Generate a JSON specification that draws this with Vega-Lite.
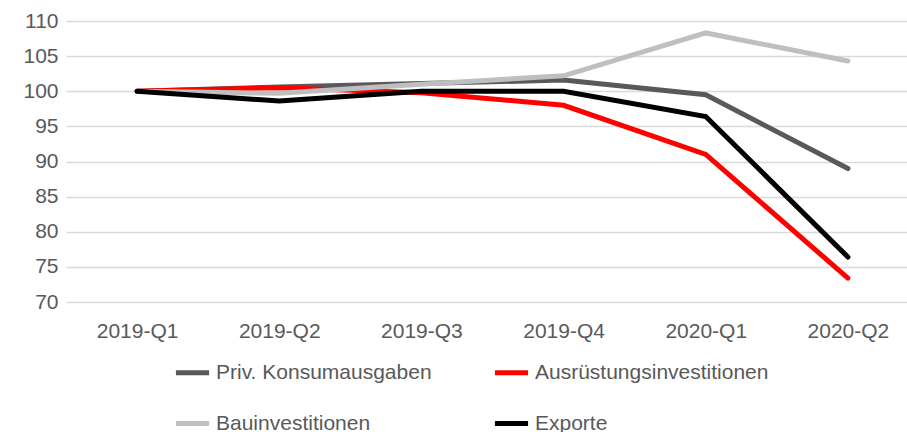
{
  "$schema": "https://vega.github.io/schema/vega-lite/v6.json",
  "width": 853,
  "height": 281,
  "autosize": {"type": "none"},
  "padding": {"left": 66, "top": 21, "right": 0, "bottom": 130},
  "background": "white",
  "config": {
    "view": {"stroke": null},
    "font": "Liberation Sans",
    "axis": {"labelColor": "#595959", "labelFontSize": 21, "labelFont": "Liberation Sans"}
  },
  "data": {
    "values": [
      {"q": "2019-Q1", "s": "Priv. Konsumausgaben", "v": 100, "o": 1},
      {"q": "2019-Q2", "s": "Priv. Konsumausgaben", "v": 100.6, "o": 1},
      {"q": "2019-Q3", "s": "Priv. Konsumausgaben", "v": 101.1, "o": 1},
      {"q": "2019-Q4", "s": "Priv. Konsumausgaben", "v": 101.6, "o": 1},
      {"q": "2020-Q1", "s": "Priv. Konsumausgaben", "v": 99.5, "o": 1},
      {"q": "2020-Q2", "s": "Priv. Konsumausgaben", "v": 89.0, "o": 1},
      {"q": "2019-Q1", "s": "Ausrüstungsinvestitionen", "v": 100, "o": 2},
      {"q": "2019-Q2", "s": "Ausrüstungsinvestitionen", "v": 100.5, "o": 2},
      {"q": "2019-Q3", "s": "Ausrüstungsinvestitionen", "v": 99.8, "o": 2},
      {"q": "2019-Q4", "s": "Ausrüstungsinvestitionen", "v": 98.0, "o": 2},
      {"q": "2020-Q1", "s": "Ausrüstungsinvestitionen", "v": 91.0, "o": 2},
      {"q": "2020-Q2", "s": "Ausrüstungsinvestitionen", "v": 73.4, "o": 2},
      {"q": "2019-Q1", "s": "Bauinvestitionen", "v": 100, "o": 3},
      {"q": "2019-Q2", "s": "Bauinvestitionen", "v": 99.7, "o": 3},
      {"q": "2019-Q3", "s": "Bauinvestitionen", "v": 101.0, "o": 3},
      {"q": "2019-Q4", "s": "Bauinvestitionen", "v": 102.2, "o": 3},
      {"q": "2020-Q1", "s": "Bauinvestitionen", "v": 108.3, "o": 3},
      {"q": "2020-Q2", "s": "Bauinvestitionen", "v": 104.3, "o": 3},
      {"q": "2019-Q1", "s": "Exporte", "v": 100, "o": 4},
      {"q": "2019-Q2", "s": "Exporte", "v": 98.6, "o": 4},
      {"q": "2019-Q3", "s": "Exporte", "v": 100.0, "o": 4},
      {"q": "2019-Q4", "s": "Exporte", "v": 100.0, "o": 4},
      {"q": "2020-Q1", "s": "Exporte", "v": 96.4, "o": 4},
      {"q": "2020-Q2", "s": "Exporte", "v": 76.4, "o": 4}
    ]
  },
  "mark": {"type": "line", "strokeWidth": 5, "strokeCap": "round", "strokeJoin": "miter"},
  "encoding": {
    "x": {
      "field": "q", "type": "ordinal", "scale": {"type": "point", "padding": 0.5},
      "axis": {"title": null, "labelAngle": 0, "domain": false, "ticks": false, "labelPadding": 18}
    },
    "y": {
      "field": "v", "type": "quantitative",
      "scale": {"domain": [70, 110], "nice": false, "zero": false},
      "axis": {"title": null, "values": [70, 75, 80, 85, 90, 95, 100, 105, 110], "domain": false, "ticks": false, "labelPadding": 8, "gridColor": "#D9D9D9", "gridWidth": 1.5}
    },
    "color": {
      "field": "s", "type": "nominal",
      "scale": {
        "domain": ["Priv. Konsumausgaben", "Ausrüstungsinvestitionen", "Bauinvestitionen", "Exporte"],
        "range": ["#595959", "#FF0000", "#BFBFBF", "#000000"]
      },
      "legend": {
        "title": null, "orient": "none", "legendX": 107, "legendY": 332,
        "direction": "horizontal",
        "columns": 2, "symbolType": "stroke", "symbolStrokeWidth": 5, "symbolSize": 1100,
        "labelFontSize": 21, "labelColor": "#595959", "labelFont": "Liberation Sans",
        "labelOffset": 4, "columnPadding": 52, "rowPadding": 21, "labelLimit": 400
      }
    },
    "order": {"field": "o", "type": "quantitative"}
  }
}
